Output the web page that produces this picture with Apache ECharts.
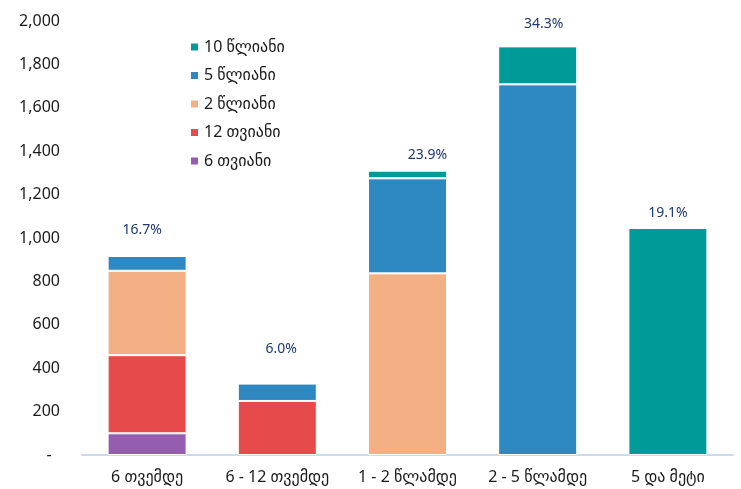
<!DOCTYPE html>
<html>
<head>
<meta charset="utf-8">
<script src="https://cdn.jsdelivr.net/npm/echarts@6/dist/echarts.min.js"></script>
<style>
  html, body { margin: 0; padding: 0; background: #fff; }
  #main { width: 741px; height: 489px; }
</style>
</head>
<body>
<div id="main"></div>
<script>
  // კატეგორიები და მონაცემები
  const categories = ['6 თვემდე', '6 - 12 თვემდე', '1 - 2 წლამდე', '2 - 5 წლამდე', '5 და მეტი']
  const seriesNames = ['6 თვიანი', '12 თვიანი', '2 წლიანი', '5 წლიანი', '10 წლიანი']
  const m6 = [100, 0, 0, 0, 0]
  const m12 = [360, 249, 0, 0, 0]
  const y2 = [389, 0, 837, 0, 0]
  const y5 = [68, 80, 438, 1708, 0]
  const y10 = [0, 0, 35, 175, 1046]
  const shareLabels = ['16.7%', '6.0%', '23.9%', '34.3%', '19.1%']
  const yTicks = [0, 200, 400, 600, 800, 1000, 1200, 1400, 1600, 1800, 2000]

  const colors = ['#955DAF', '#E64A4A', '#F3B084', '#2E89C2', '#009A99']
  const font = '"Noto Sans", "DejaVu Sans", sans-serif'
  const labelOffsets = [[-5, -13], [4, -22], [20, -3], [6, -10], [0, -3]]

  const totals = categories.map((c, i) => m6[i] + m12[i] + y2[i] + y5[i] + y10[i])
  const values = [m6, m12, y2, y5, y10]

  const chart = echarts.init(document.getElementById('main'))

  const barSeries = seriesNames.map((name, k) => ({
    name: name,
    type: 'bar',
    stack: 'total',
    barWidth: 79,
    itemStyle: {
      color: colors[k],
      borderColor: '#fff',
      borderWidth: 1
    },
    data: values[k].map(v => v === 0 ? null : v)
  }))

  const option = {
    animation: false,
    color: colors,
    grid: {
      left: 82,
      right: 8,
      top: 21,
      bottom: 34
    },
    legend: {
      orient: 'vertical',
      left: 184,
      top: 34,
      itemWidth: 9,
      itemHeight: 9,
      itemGap: 12.5,
      icon: 'rect',
      data: ['10 წლიანი', '5 წლიანი', '2 წლიანი', '12 თვიანი', '6 თვიანი'],
      textStyle: {
        color: '#1a1a1a',
        fontSize: 16,
        fontFamily: font
      }
    },
    xAxis: {
      type: 'category',
      data: categories,
      axisTick: { show: false },
      axisLine: {
        show: true,
        lineStyle: { color: '#C8DBEF', width: 2 }
      },
      axisLabel: {
        interval: 0,
        color: '#1a1a1a',
        fontSize: 16,
        fontFamily: font,
        margin: 14
      }
    },
    yAxis: {
      type: 'value',
      min: 0,
      max: 2000,
      interval: 200,
      splitLine: { show: false },
      axisLine: { show: false },
      axisTick: { show: false },
      axisLabel: {
        color: '#1a1a1a',
        fontSize: 16,
        fontFamily: font,
        margin: 22,
        formatter: function (v) {
          if (yTicks.indexOf(v) < 0) return ''
          if (v === 0) return '-  '
          return v.toLocaleString('en-US')
        }
      }
    },
    series: barSeries.concat([{
      name: 'share',
      type: 'scatter',
      symbol: 'circle',
      symbolSize: 1,
      itemStyle: { color: 'rgba(0,0,0,0)', opacity: 1 },
      silent: true,
      z: 10,
      data: totals.map((t, i) => ({
        value: t,
        label: {
          show: true,
          position: 'top',
          offset: labelOffsets[i],
          formatter: shareLabels[i],
          color: '#1F3871',
          fontSize: 14,
          fontFamily: font
        }
      }))
    }])
  }

  chart.setOption(option)
</script>
</body>
</html>
